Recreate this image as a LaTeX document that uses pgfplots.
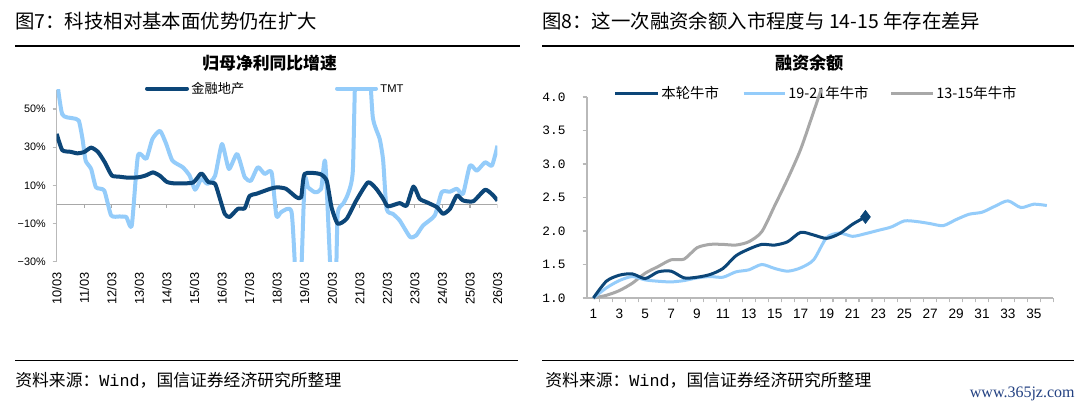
\documentclass[border=0pt]{standalone}
\usepackage{fontspec}
\usepackage{pgfplots}
\pgfplotsset{compat=1.18}
\setmainfont{Liberation Sans}
\newfontfamily\cjk{Noto Sans CJK SC}
\newfontfamily\mono{Liberation Mono}
\newfontfamily\serifw{Liberation Serif}
\definecolor{dblue}{RGB}{12,70,120}
\definecolor{lblue}{RGB}{148,204,250}
\definecolor{lgray}{RGB}{168,168,168}
\definecolor{axgray}{RGB}{185,185,185}
\definecolor{wmblue}{RGB}{35,65,130}
\begin{document}
\begin{tikzpicture}
\fill[white] (0,0) rectangle (540pt,205pt);
\path[use as bounding box] (0,0) rectangle (540pt,205pt);
% ---------- headings ----------
\node[anchor=west,inner sep=0,font=\cjk\fontsize{9.7pt}{10pt}\selectfont] at (7.5pt,194.5pt) {图7：科技相对基本面优势仍在扩大};
\node[anchor=west,inner sep=0,font=\cjk\fontsize{9.7pt}{10pt}\selectfont] at (271pt,194.5pt) {图8：这一次融资余额入市程度与 14-15 年存在差异};
\draw[line width=0.75pt] (7.5pt,182pt) -- (260pt,182pt);
\draw[line width=0.75pt] (271pt,182pt) -- (537pt,182pt);
\node[inner sep=0,font=\cjk\bfseries\fontsize{8.4pt}{9pt}\selectfont] at (134.8pt,173.5pt) {归母净利同比增速};
\node[inner sep=0,font=\cjk\bfseries\fontsize{8.6pt}{9pt}\selectfont] at (404.8pt,173.5pt) {融资余额};
% ---------- legends ----------
\draw[dblue,line width=2pt,line cap=round] (73.5pt,160.7pt) -- (93.5pt,160.7pt);
\node[anchor=west,inner sep=0,font=\cjk\fontsize{6.6pt}{7pt}\selectfont] at (95.5pt,160.9pt) {金融地产};
\draw[lblue,line width=2pt,line cap=round] (168.5pt,160.7pt) -- (188pt,160.7pt);
\node[anchor=west,inner sep=0,font=\fontsize{5.6pt}{6pt}\selectfont] at (190pt,160.9pt) {TMT};
\draw[dblue,line width=1.5pt] (307.5pt,158.4pt) -- (329pt,158.4pt);
\node[anchor=west,inner sep=0,font=\cjk\fontsize{7.2pt}{8pt}\selectfont] at (330.5pt,158.6pt) {本轮牛市};
\draw[lblue,line width=1.5pt] (371.8pt,158.4pt) -- (392.5pt,158.4pt);
\node[anchor=west,inner sep=0,font=\cjk\fontsize{7.2pt}{8pt}\selectfont] at (394pt,158.6pt) {19-21年牛市};
\draw[lgray,line width=1.5pt] (445.5pt,158.4pt) -- (466.5pt,158.4pt);
\node[anchor=west,inner sep=0,font=\cjk\fontsize{7.2pt}{8pt}\selectfont] at (468pt,158.6pt) {13-15年牛市};
% ---------- left chart ----------
\begin{axis}[
  at={(28.35pt,74.15pt)}, anchor=south west,
  scale only axis, width=220.4pt, height=85.85pt,
  xmin=0, xmax=64, ymin=-30, ymax=60,
  axis lines*=left,
  x axis line style={draw=none},
  y axis line style={draw=axgray,line width=0.6pt},
  xtick={0,4,...,64},
  xticklabels={10/03,11/03,12/03,13/03,14/03,15/03,16/03,17/03,18/03,19/03,20/03,21/03,22/03,23/03,24/03,25/03,26/03},
  xticklabel style={rotate=90,anchor=east,font=\fontsize{6.4pt}{7pt}\selectfont},
  major x tick style={draw=none},
  ytick={-30,-10,10,30,50},
  yticklabels={−30\%,−10\%,10\%,30\%,50\%},
  yticklabel style={font=\fontsize{5.4pt}{6pt}\selectfont},
  major y tick style={draw=axgray,line width=0.6pt},
  tick align=outside, major tick length=2pt,
  clip=true,
]
\draw[lgray,line width=0.7pt] (axis cs:0,0) -- (axis cs:64,0);
\pgfplotsinvokeforeach{4,8,...,64}{\draw[lgray,line width=0.6pt] (axis cs:#1,0) -- ++(0pt,-2pt);}
\addplot[lblue,line width=2pt,smooth,tension=0.35,line join=round] coordinates {
(0,66)(0.8,47.3)(2.3,45.2)(3.2,44)(3.75,34.3)(4.2,23)(5,18.6)(5.7,9)(6.9,7.3)(7.9,-5.7)(9.1,-6.3)(10.1,-6.6)(10.9,-11)(11.8,25.6)(13,23.9)(13.9,34.3)(15,38.6)(15.9,31.7)(16.8,23)(18.3,19.5)(19.3,15.1)(20.1,7.7)(21,13.4)(21.9,10.8)(23,15.1)(24,31.7)(25,18.6)(26.2,26.5)(27.3,14.3)(28.2,12.5)(29.2,19.5)(30.2,16)(31.2,16.9)(31.9,-6)(32.6,-4)(34.1,-4)(34.8,-45)(35.4,-45)(36,12.5)(36.5,9)(37.5,6.4)(38.4,8.2)(39,22.1)(39.9,-45)(40.5,-45)(40.8,-4.9)(41.6,0.4)(42.3,5.6)(43,17.7)(43.5,80)(45.2,80)(45.9,45.6)(46.9,34.3)(47.4,23)(47.9,-2.3)(48.8,-4.9)(49.8,-8.4)(51.3,-17)(52.2,-16.2)(53.2,-11)(54.9,-5.7)(55.9,6.4)(57.1,6.7)(58.1,8.2)(59,5.6)(60,20.4)(61,17.7)(62.2,22.1)(63.2,20.4)(64,30.8)
};
\addplot[dblue,line width=2pt,smooth,tension=0.35,line join=round] coordinates {
(0,37)(0.8,28.5)(2,27.6)(3,26.8)(4,27.5)(5,29.8)(6,27.5)(7,22)(8,15.2)(9,14.6)(10.5,14)(12,14.3)(13,15.3)(14,16.8)(15,15)(16,11.8)(17.3,11)(19.8,11.5)(21,16.3)(22,11.8)(23,10.8)(23.7,3)(24.4,-4.9)(25.1,-6.6)(26.3,-2.3)(27.3,-2)(28,4.5)(29,5.6)(31,8.2)(32,9)(33.3,8.2)(34.8,3.8)(35.5,3.8)(36,16)(38.2,16)(39.2,12.5)(39.9,-1.4)(40.8,-10.1)(42.1,-7.5)(43.5,2.1)(45.2,11.6)(46.4,8.2)(47.4,3)(48.1,-1)(49.8,0.7)(50.8,-0.6)(51.8,9.4)(52.7,3)(53.7,1.2)(55.2,-1.4)(56.1,-4.9)(57.1,-2.3)(58.1,4.7)(59,2.1)(60.5,1.7)(62.2,7.7)(63.3,5)(64,2)
};
\end{axis}
% ---------- right chart ----------
\begin{axis}[
  at={(293.45pt,56pt)}, anchor=south west,
  scale only axis, width=233.2pt, height=100.5pt,
  xmin=0.5, xmax=36.5, ymin=1, ymax=4,
  axis lines*=left,
  axis line style={draw=axgray,line width=0.6pt},
  xtick={1,3,...,35},
  minor xtick={1.5,2.5,...,36.5},
  major x tick style={draw=none},
  minor x tick style={draw=axgray,line width=0.6pt},
  xticklabel style={font=\fontsize{6.8pt}{7pt}\selectfont},
  /pgf/number format/assume math mode=true,
  ytick={1,1.5,...,4},
  yticklabels={1.0,1.5,2.0,2.5,3.0,3.5,4.0},
  yticklabel style={font=\mono\fontsize{6.4pt}{7pt}\selectfont,xshift=-5pt},
  major y tick style={draw=axgray,line width=0.6pt},
  tick align=outside, major tick length=2.2pt, minor tick length=2.2pt,
  clip=false,
]
\addplot[lgray,line width=1.5pt,smooth,tension=0.45] coordinates {
(1,1.0)(2,1.04)(3,1.11)(4,1.22)(5,1.37)(6,1.47)(7,1.57)(8,1.58)(9,1.75)(10,1.80)(11,1.80)(12,1.79)(13,1.84)(14,1.99)(15,2.38)(16,2.78)(17,3.22)(18,3.78)(18.6,4.12)
};
\addplot[lblue,line width=1.5pt,smooth,tension=0.45] coordinates {
(1,1.0)(2,1.15)(3,1.26)(4,1.32)(5,1.27)(6,1.25)(7,1.24)(8,1.26)(9,1.30)(10,1.32)(11,1.31)(12,1.39)(13,1.42)(14,1.50)(15,1.44)(16,1.40)(17,1.45)(18,1.57)(19,1.90)(20,1.97)(21,1.92)(22,1.96)(23,2.01)(24,2.06)(25,2.15)(26,2.14)(27,2.11)(28,2.08)(29,2.17)(30,2.25)(31,2.28)(32,2.37)(33,2.45)(34,2.35)(35,2.40)(36,2.38)
};
\addplot[dblue,line width=1.5pt,smooth,tension=0.45] coordinates {
(1,1.0)(2,1.25)(3,1.34)(4,1.36)(5,1.29)(6,1.39)(7,1.40)(8,1.30)(9,1.31)(10,1.35)(11,1.44)(12,1.63)(13,1.73)(14,1.80)(15,1.79)(16,1.84)(17,1.98)(18,1.94)(19,1.89)(20,1.96)(21,2.10)(22,2.21)
};
\addplot[only marks,mark=diamond*,mark size=3.2pt,color=dblue] coordinates {(22,2.21)};
\end{axis}
% ---------- footers ----------
\draw[line width=0.6pt] (7.5pt,24.7pt) -- (259pt,24.7pt);
\draw[line width=0.6pt] (271pt,24.7pt) -- (537pt,24.7pt);
\node[anchor=west,inner sep=0,font=\fontsize{8.4pt}{9pt}\selectfont] at (7.5pt,14.7pt) {{\cjk 资料来源：}{\mono Wind}{\cjk ，国信证券经济研究所整理}};
\node[anchor=west,inner sep=0,font=\fontsize{8.4pt}{9pt}\selectfont] at (272.5pt,14.7pt) {{\cjk 资料来源：}{\mono Wind}{\cjk ，国信证券经济研究所整理}};
\node[anchor=east,inner sep=0,font=\serifw\fontsize{8pt}{9pt}\selectfont,text=wmblue] at (537.5pt,8pt) {www.365jz.com};
\end{tikzpicture}
\end{document}
